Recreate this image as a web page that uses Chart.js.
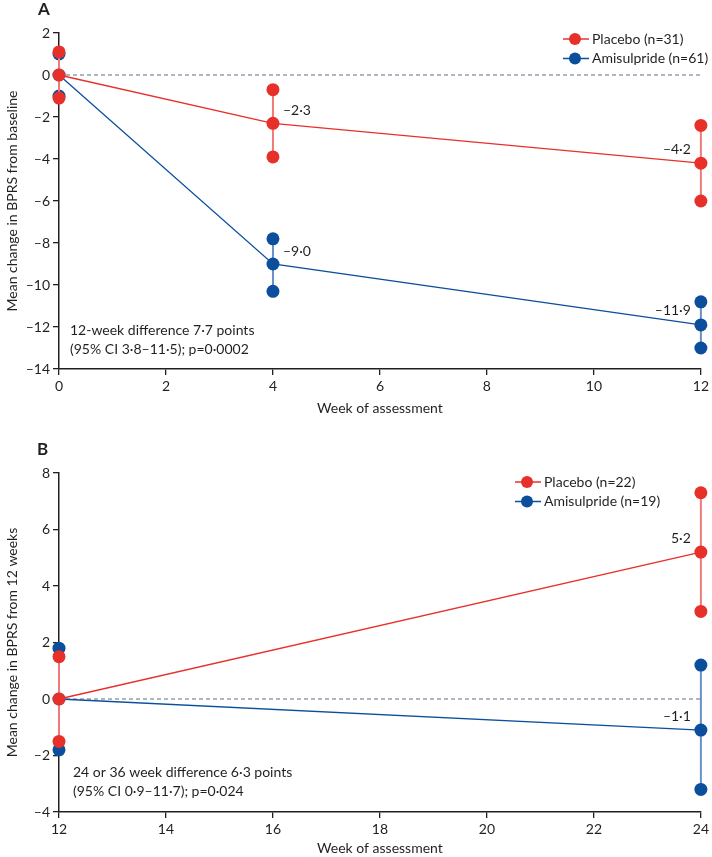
<!DOCTYPE html>
<html>
<head>
<meta charset="utf-8">
<script src="https://cdn.jsdelivr.net/npm/chart.js@4.4.0/dist/chart.umd.min.js"></script>
<style>
  body { margin: 0; background: #fff; }
  .panel { position: absolute; left: 0; width: 712px; }
</style>
</head>
<body>
<div class="panel" style="top:0;height:430px"><canvas id="chartA"></canvas></div>
<div class="panel" style="top:430px;height:427px"><canvas id="chartB"></canvas></div>
<script>
// Panel A - change from baseline
const weeksA = [0, 4, 12];
const placeboA = [0, -2.3, -4.2];
const placeboALow = [-1.1, -3.9, -6.0];
const placeboAHigh = [1.1, -0.7, -2.4];
const amisulA = [0, -9.0, -11.9];
const amisulALow = [-1.0, -10.3, -13.0];
const amisulAHigh = [1.0, -7.8, -10.8];
const xTicksA = [0, 2, 4, 6, 8, 10, 12];
const yTicksA = [-14, -12, -10, -8, -6, -4, -2, 0, 2];

// Panel B - change from 12 weeks
const weeksB = [12, 24];
const placeboB = [0, 5.2];
const placeboBLow = [-1.5, 3.1];
const placeboBHigh = [1.5, 7.3];
const amisulB = [0, -1.1];
const amisulBLow = [-1.8, -3.2];
const amisulBHigh = [1.8, 1.2];
const xTicksB = [12, 14, 16, 18, 20, 22, 24];
const yTicksB = [-4, -2, 0, 2, 4, 6, 8];

const red = '#E8302A';
const redLight = '#F07A78';
const blue = '#0B4F9C';
const blueLight = '#6990C8';
const ink = '#231f20';
const FONT = 'Lato, "Open Sans", sans-serif';

// nombre avec tiret et point médian, style Lancet
function fmt(v, dec) {
    const s = Math.abs(v).toFixed(dec).replace('.', '\u00b7');
    return (v < 0 ? '\u2013' : '') + s;
}

function seriesSets(weeks, mean, low, high, color, light, label) {
    const sets = [{
        label: label,
        data: weeks.map((w, i) => ({ x: w, y: mean[i] })),
        borderColor: color,
        borderWidth: 1.3,
        pointRadius: 6.5,
        pointBackgroundColor: color,
        pointBorderWidth: 0,
        clip: false
    }];
    weeks.forEach((w, i) => {
        sets.push({
            label: label + ' CI',
            data: [{ x: w, y: low[i] }, { x: w, y: high[i] }],
            borderColor: light,
            borderWidth: 2,
            pointRadius: 6.5,
            pointBackgroundColor: color,
            pointBorderWidth: 0,
            clip: false
        });
    });
    return sets;
}

function valueLabels(weeks, mean) {
    const out = [];
    for (let i = 1; i < weeks.length; i++) {
        out.push({ x: weeks[i], y: mean[i], text: fmt(mean[i], 1), side: i === weeks.length - 1 ? 'left' : 'right' });
    }
    return out;
}

// ligne zéro, étiquettes, légende, note
const annotatePlugin = {
    id: 'annotate',
    beforeDatasetsDraw(chart) {
        const { ctx, chartArea, scales: { y } } = chart;
        const y0 = y.getPixelForValue(0);
        ctx.save();
        ctx.strokeStyle = '#5d7188';
        ctx.lineWidth = 1;
        ctx.setLineDash([4, 3]);
        ctx.beginPath();
        ctx.moveTo(chartArea.left, y0);
        ctx.lineTo(chartArea.right, y0);
        ctx.stroke();
        ctx.restore();
    },
    afterDatasetsDraw(chart, args, opts) {
        const { ctx, scales: { x, y } } = chart;
        ctx.save();
        ctx.fillStyle = ink;
        ctx.font = '14px ' + FONT;
        ctx.textBaseline = 'middle';
        opts.labels.forEach(l => {
            const px = x.getPixelForValue(l.x);
            const py = y.getPixelForValue(l.y);
            if (l.side === 'right') {
                ctx.textAlign = 'left';
                ctx.fillText(l.text, px + 10, py - 13);
            } else {
                ctx.textAlign = 'right';
                ctx.fillText(l.text, px - 10, py - 14);
            }
        });

        // note
        ctx.textAlign = 'left';
        opts.note.lines.forEach((t, i) => ctx.fillText(t, opts.note.x, opts.note.y + i * 19.5));

        // légende
        const lg = opts.legend;
        lg.items.forEach((it, i) => {
            const ly = lg.y + i * 19.5;
            ctx.strokeStyle = it.color;
            ctx.lineWidth = 1.5;
            ctx.beginPath();
            ctx.moveTo(lg.x - 29, ly);
            ctx.lineTo(lg.x - 3, ly);
            ctx.stroke();
            ctx.fillStyle = it.color;
            ctx.beginPath();
            ctx.arc(lg.x - 17, ly, 6, 0, Math.PI * 2);
            ctx.fill();
            ctx.fillStyle = ink;
            ctx.fillText(it.text, lg.x, ly);
        });

        // lettre du panneau
        ctx.font = 'bold 17px ' + FONT;
        ctx.fillText(opts.letter.text, opts.letter.x, opts.letter.y);
        ctx.restore();
    }
};

function makeChart(id, cfg) {
    return new Chart(document.getElementById(id), {
        type: 'line',
        data: {
            datasets: [
                ...seriesSets(cfg.weeks, cfg.placebo, cfg.placeboLow, cfg.placeboHigh, red, redLight, 'Placebo'),
                ...seriesSets(cfg.weeks, cfg.amisul, cfg.amisulLow, cfg.amisulHigh, blue, blueLight, 'Amisulpride')
            ]
        },
        options: {
            responsive: true,
            maintainAspectRatio: false,
            animation: false,
            layout: { padding: { top: cfg.padTop, right: 7, left: 0, bottom: 0 } },
            scales: {
                x: {
                    type: 'linear',
                    min: cfg.xTicks[0],
                    max: cfg.xTicks[cfg.xTicks.length - 1],
                    afterBuildTicks: s => { s.ticks = cfg.xTicks.map(v => ({ value: v })); },
                    ticks: { color: ink, font: { family: FONT, size: 14 }, padding: 3, maxRotation: 0 },
                    grid: { drawOnChartArea: false, drawTicks: true, tickLength: 6, color: ink, lineWidth: 1.3 },
                    border: { color: ink, width: 1.5 },
                    title: { display: true, text: 'Week of assessment', color: ink, font: { family: FONT, size: 14 }, padding: { top: 0, bottom: cfg.titlePad } },
                    afterFit: s => { s.height = cfg.xHeight; }
                },
                y: {
                    type: 'linear',
                    min: cfg.yTicks[0],
                    max: cfg.yTicks[cfg.yTicks.length - 1],
                    afterBuildTicks: s => { s.ticks = cfg.yTicks.map(v => ({ value: v })); },
                    ticks: { color: ink, font: { family: FONT, size: 14 }, padding: 3, callback: v => fmt(v, 0) },
                    grid: { drawOnChartArea: false, drawTicks: true, tickLength: 6, color: ink, lineWidth: 1.3 },
                    border: { color: ink, width: 1.5 },
                    title: { display: true, text: cfg.yTitle, color: ink, font: { family: FONT, size: 14 }, padding: { top: 4, bottom: 0 } },
                    afterFit: s => { s.width = 59; }
                }
            },
            plugins: {
                legend: { display: false },
                tooltip: { enabled: false },
                annotate: {
                    labels: [...valueLabels(cfg.weeks, cfg.placebo), ...valueLabels(cfg.weeks, cfg.amisul)],
                    note: cfg.note,
                    legend: cfg.legend,
                    letter: cfg.letter
                }
            }
        },
        plugins: [annotatePlugin]
    });
}

makeChart('chartA', {
    weeks: weeksA, placebo: placeboA, placeboLow: placeboALow, placeboHigh: placeboAHigh,
    amisul: amisulA, amisulLow: amisulALow, amisulHigh: amisulAHigh,
    xTicks: xTicksA, yTicks: yTicksA,
    padTop: 33, xHeight: 61, titlePad: 13,
    yTitle: 'Mean change in BPRS from baseline',
    note: { x: 70, y: 330, lines: ['12-week difference 7\u00b77 points', '(95% CI 3\u00b78\u201311\u00b75); p=0\u00b70002'] },
    legend: { x: 592, y: 39, items: [{ text: 'Placebo (n=31)', color: red }, { text: 'Amisulpride (n=61)', color: blue }] },
    letter: { text: 'A', x: 38, y: 10 }
});

makeChart('chartB', {
    weeks: weeksB, placebo: placeboB, placeboLow: placeboBLow, placeboHigh: placeboBHigh,
    amisul: amisulB, amisulLow: amisulBLow, amisulHigh: amisulBHigh,
    xTicks: xTicksB, yTicks: yTicksB,
    padTop: 43, xHeight: 45, titlePad: 0,
    yTitle: 'Mean change in BPRS from 12 weeks',
    note: { x: 73, y: 342, lines: ['24 or 36 week difference 6\u00b73 points', '(95% CI 0\u00b79\u201311\u00b77); p=0\u00b7024'] },
    legend: { x: 544, y: 52, items: [{ text: 'Placebo (n=22)', color: red }, { text: 'Amisulpride (n=19)', color: blue }] },
    letter: { text: 'B', x: 37, y: 20 }
});
</script>
</body>
</html>
